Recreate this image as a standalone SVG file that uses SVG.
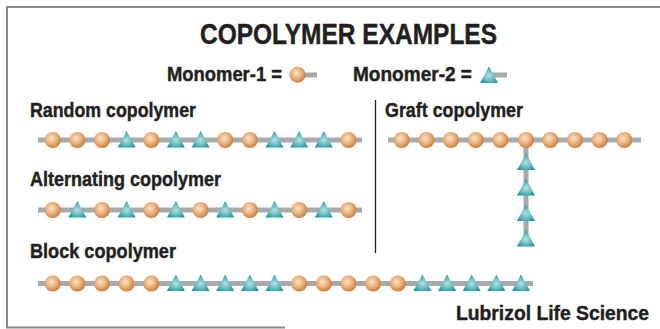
<svg xmlns="http://www.w3.org/2000/svg" xmlns:xlink="http://www.w3.org/1999/xlink" width="660" height="329" viewBox="0 0 660 329">
<style>
.t{font-family:"Liberation Sans",Arial,sans-serif;font-weight:bold;fill:#231f20;stroke:#231f20;stroke-width:0.45}
.bb{stroke:#a7a9ac;stroke-width:5;fill:none}
.frame{stroke:#8a8a8a;stroke-width:2;fill:none}
</style>
<defs>
<radialGradient id="gc" cx="0.42" cy="0.4" r="0.62">
<stop offset="0" stop-color="#fbe3c8"/>
<stop offset="0.55" stop-color="#eab07a"/>
<stop offset="1" stop-color="#c77a36"/>
</radialGradient>
<radialGradient id="gt" cx="0.5" cy="0.55" r="0.6">
<stop offset="0" stop-color="#b6e2e2"/>
<stop offset="0.55" stop-color="#5fb9bb"/>
<stop offset="1" stop-color="#178f94"/>
</radialGradient>
<circle id="C" r="8" fill="url(#gc)"/>
<polygon id="T" points="0,-9 9,7.5 -9,7.5" fill="url(#gt)"/>
</defs>
<rect width="660" height="329" fill="#ffffff"/>
<g id="frame">
<path class="frame" d="M660,7 H7 V327.5 H285"/>
</g>
<text class="t" x="200" y="44" font-size="30" textLength="297" lengthAdjust="spacingAndGlyphs">COPOLYMER EXAMPLES</text>
<g id="legend1">
<text class="t" x="167" y="81" font-size="21" textLength="115" lengthAdjust="spacingAndGlyphs">Monomer-1 =</text>
<line class="bb" x1="297" y1="75" x2="317" y2="75"/>
<use xlink:href="#C" x="297.5" y="74.7"/>
</g>
<g id="legend2">
<text class="t" x="353" y="81" font-size="21" textLength="119" lengthAdjust="spacingAndGlyphs">Monomer-2 =</text>
<line class="bb" x1="489" y1="75" x2="507" y2="75"/>
<use xlink:href="#T" x="489" y="75.5"/>
</g>
<g id="connectors">
<line x1="375.5" y1="100" x2="375.5" y2="253" stroke="#231f20" stroke-width="1.3"/>
</g>
<g id="random">
<text class="t" x="30" y="117" font-size="21" textLength="166" lengthAdjust="spacingAndGlyphs">Random copolymer</text>
<line class="bb" x1="38" y1="140" x2="362" y2="140"/>
<use xlink:href="#C" x="52.7" y="140"/>
<use xlink:href="#C" x="77.3" y="140"/>
<use xlink:href="#C" x="102" y="140"/>
<use xlink:href="#T" x="126.6" y="140"/>
<use xlink:href="#C" x="151.3" y="140"/>
<use xlink:href="#T" x="175.9" y="140"/>
<use xlink:href="#T" x="200.6" y="140"/>
<use xlink:href="#C" x="225.2" y="140"/>
<use xlink:href="#C" x="249.9" y="140"/>
<use xlink:href="#T" x="274.5" y="140"/>
<use xlink:href="#T" x="299.2" y="140"/>
<use xlink:href="#T" x="323.8" y="140"/>
<use xlink:href="#C" x="348.5" y="140"/>
</g>
<g id="alternating">
<text class="t" x="30" y="185.5" font-size="21" textLength="191" lengthAdjust="spacingAndGlyphs">Alternating copolymer</text>
<line class="bb" x1="38" y1="210" x2="362" y2="210"/>
<use xlink:href="#C" x="52.7" y="210"/>
<use xlink:href="#T" x="77.3" y="210"/>
<use xlink:href="#C" x="102" y="210"/>
<use xlink:href="#T" x="126.6" y="210"/>
<use xlink:href="#C" x="151.3" y="210"/>
<use xlink:href="#T" x="175.9" y="210"/>
<use xlink:href="#C" x="200.6" y="210"/>
<use xlink:href="#T" x="225.2" y="210"/>
<use xlink:href="#C" x="249.9" y="210"/>
<use xlink:href="#T" x="274.5" y="210"/>
<use xlink:href="#C" x="299.2" y="210"/>
<use xlink:href="#T" x="323.8" y="210"/>
<use xlink:href="#C" x="348.5" y="210"/>
</g>
<g id="block">
<text class="t" x="30" y="258" font-size="21" textLength="146" lengthAdjust="spacingAndGlyphs">Block copolymer</text>
<line class="bb" x1="38" y1="283.5" x2="533" y2="283.5"/>
<use xlink:href="#C" x="52.7" y="283.5"/>
<use xlink:href="#C" x="77.3" y="283.5"/>
<use xlink:href="#C" x="102" y="283.5"/>
<use xlink:href="#C" x="126.6" y="283.5"/>
<use xlink:href="#C" x="151.3" y="283.5"/>
<use xlink:href="#T" x="175.9" y="283.5"/>
<use xlink:href="#T" x="200.6" y="283.5"/>
<use xlink:href="#T" x="225.2" y="283.5"/>
<use xlink:href="#T" x="249.9" y="283.5"/>
<use xlink:href="#T" x="274.5" y="283.5"/>
<use xlink:href="#C" x="299.2" y="283.5"/>
<use xlink:href="#C" x="323.8" y="283.5"/>
<use xlink:href="#C" x="348.5" y="283.5"/>
<use xlink:href="#C" x="373.1" y="283.5"/>
<use xlink:href="#C" x="397.8" y="283.5"/>
<use xlink:href="#T" x="422.4" y="283.5"/>
<use xlink:href="#T" x="447.1" y="283.5"/>
<use xlink:href="#T" x="471.7" y="283.5"/>
<use xlink:href="#T" x="496.4" y="283.5"/>
<use xlink:href="#T" x="521" y="283.5"/>
</g>
<g id="graft">
<text class="t" x="385" y="117" font-size="21" textLength="138" lengthAdjust="spacingAndGlyphs">Graft copolymer</text>
<line class="bb" x1="388" y1="140" x2="641" y2="140"/>
<line class="bb" x1="526" y1="140" x2="526" y2="238"/>
<use xlink:href="#T" x="526" y="162.5"/>
<use xlink:href="#T" x="526" y="188"/>
<use xlink:href="#T" x="526" y="213.5"/>
<use xlink:href="#T" x="526" y="239"/>
<use xlink:href="#C" x="401.7" y="140"/>
<use xlink:href="#C" x="426.4" y="140"/>
<use xlink:href="#C" x="451" y="140"/>
<use xlink:href="#C" x="475.7" y="140"/>
<use xlink:href="#C" x="500.4" y="140"/>
<use xlink:href="#C" x="526" y="140"/>
<use xlink:href="#C" x="550.3" y="140"/>
<use xlink:href="#C" x="575" y="140"/>
<use xlink:href="#C" x="599.6" y="140"/>
<use xlink:href="#C" x="624.3" y="140"/>
</g>
<text class="t" x="456" y="320" font-size="21" textLength="193" lengthAdjust="spacingAndGlyphs">Lubrizol Life Science</text>
</svg>
